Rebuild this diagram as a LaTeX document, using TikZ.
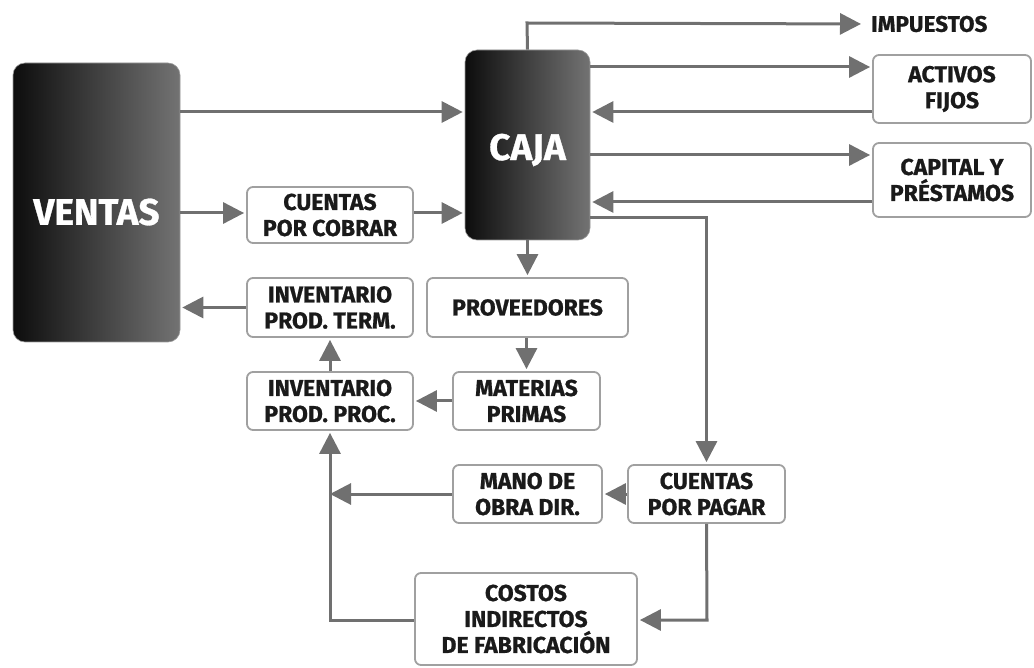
\documentclass[tikz,border=0pt]{standalone}
\usepackage{fontspec}
\setmainfont{Fira Sans}[BoldFeatures={FakeBold=0.8}]
\usetikzlibrary{arrows.meta}
\definecolor{linegray}{HTML}{707070}
\definecolor{boxgray}{HTML}{A0A0A0}
\definecolor{txt}{HTML}{1A1A1A}
\begin{document}
\begin{tikzpicture}[x=1pt,y=-1pt,
  wbox/.style={draw=boxgray, line width=1.8pt, fill=white, rounded corners=6pt,
    align=center, inner sep=0pt, text=txt, font=\bfseries\fontsize{23}{26}\selectfont},
  dbox/.style={rounded corners=12pt, left color=black!95, right color=black!55,
    draw=black!40, line width=0.6pt, inner sep=0pt},
  bigtxt/.style={text=white, font=\bfseries\fontsize{37}{40}\selectfont},
  arr/.style={draw=linegray, line width=3pt, shorten >=2pt,
    -{Triangle[length=21pt,width=21pt]}},
  ln/.style={draw=linegray, line width=3pt}]
\useasboundingbox (0,0) rectangle (1034,668);

% dark boxes
\node[dbox, minimum width=167pt, minimum height=279pt] (ventas) at (96.5,202.5) {};
\node[bigtxt] (ventastxt) at (96.5,212) {VENTAS};
\node[dbox, minimum width=125pt, minimum height=190pt] (caja) at (527.5,145) {};
\node[bigtxt] (cajatxt) at (527.5,150) {CAJA};

% white boxes
\node[wbox, minimum width=166pt, minimum height=56pt] (cxc) at (330,215) {CUENTAS\\POR COBRAR};
\node[wbox, minimum width=166pt, minimum height=59pt] (ipt) at (330,307.5) {INVENTARIO\\PROD. TERM.};
\node[wbox, minimum width=201pt, minimum height=59pt] (prov) at (527.5,307.5) {PROVEEDORES};
\node[wbox, minimum width=147pt, minimum height=58pt] (mp) at (526.5,401) {MATERIAS\\PRIMAS};
\node[wbox, minimum width=166pt, minimum height=58pt] (ipp) at (330,401) {INVENTARIO\\PROD. PROC.};
\node[wbox, minimum width=157pt, minimum height=58pt] (cxp) at (706.5,494) {CUENTAS\\POR PAGAR};
\node[wbox, minimum width=149pt, minimum height=58pt] (mo) at (527.5,494) {MANO DE\\OBRA DIR.};
\node[wbox, minimum width=222pt, minimum height=92pt] (cif) at (526,619) {COSTOS\\INDIRECTOS\\DE FABRICACIÓN};
\node[wbox, minimum width=158pt, minimum height=68pt] (af) at (952,89) {ACTIVOS\\FIJOS};
\node[wbox, minimum width=158pt, minimum height=74pt] (cp) at (952,180) {CAPITAL Y\\PRÉSTAMOS};
\node[text=txt, font=\bfseries\fontsize{22.5}{25}\selectfont, anchor=west, inner sep=0pt] (imp) at (871,24) {IMPUESTOS};

% connectors
\coordinate (cajatop) at (527,23);
\draw[arr, shorten >=10pt] (caja.north) -- (cajatop) -- (imp.west);
\draw[arr] (caja.east |- 0,67) -- (af.west |- 0,67);
\draw[arr] (af.west |- 0,112) -- (caja.east |- 0,112);
\draw[arr] (caja.east |- 0,155) -- (cp.west |- 0,155);
\draw[arr] (cp.west |- 0,202) -- (caja.east |- 0,202);
\draw[arr] (caja.east |- 0,218) -| (cxp.north);
\draw[arr] (ventas.east |- 0,112) -- (caja.west |- 0,112);
\draw[arr] (ventas.east |- 0,213) -- (cxc.west |- 0,213);
\draw[arr] (cxc.east |- 0,213) -- (caja.west |- 0,213);
\draw[arr] (ipt.west) -- (ventas.east |- ipt.west);
\draw[arr] (caja.south) -- (prov.north);
\draw[arr] (prov.south -| mp.north) -- (mp.north);
\draw[arr] (mp.west) -- (ipp.east);
\draw[arr] (ipp.north) -- (ipt.south);
\draw[arr] (cxp.west) -- (mo.east);
\coordinate (moend) at (330,494);
\draw[arr, shorten >=0pt] (mo.west) -- (moend);
\coordinate (cxpdown) at (707,620);
\draw[arr] (cxp.south) -- (cxpdown) -- (cif.east |- cxpdown);
\coordinate (cifleft) at (330,620);
\draw[arr] (cif.west |- cifleft) -- (cifleft) -- (ipp.south);
\end{tikzpicture}
\end{document}
